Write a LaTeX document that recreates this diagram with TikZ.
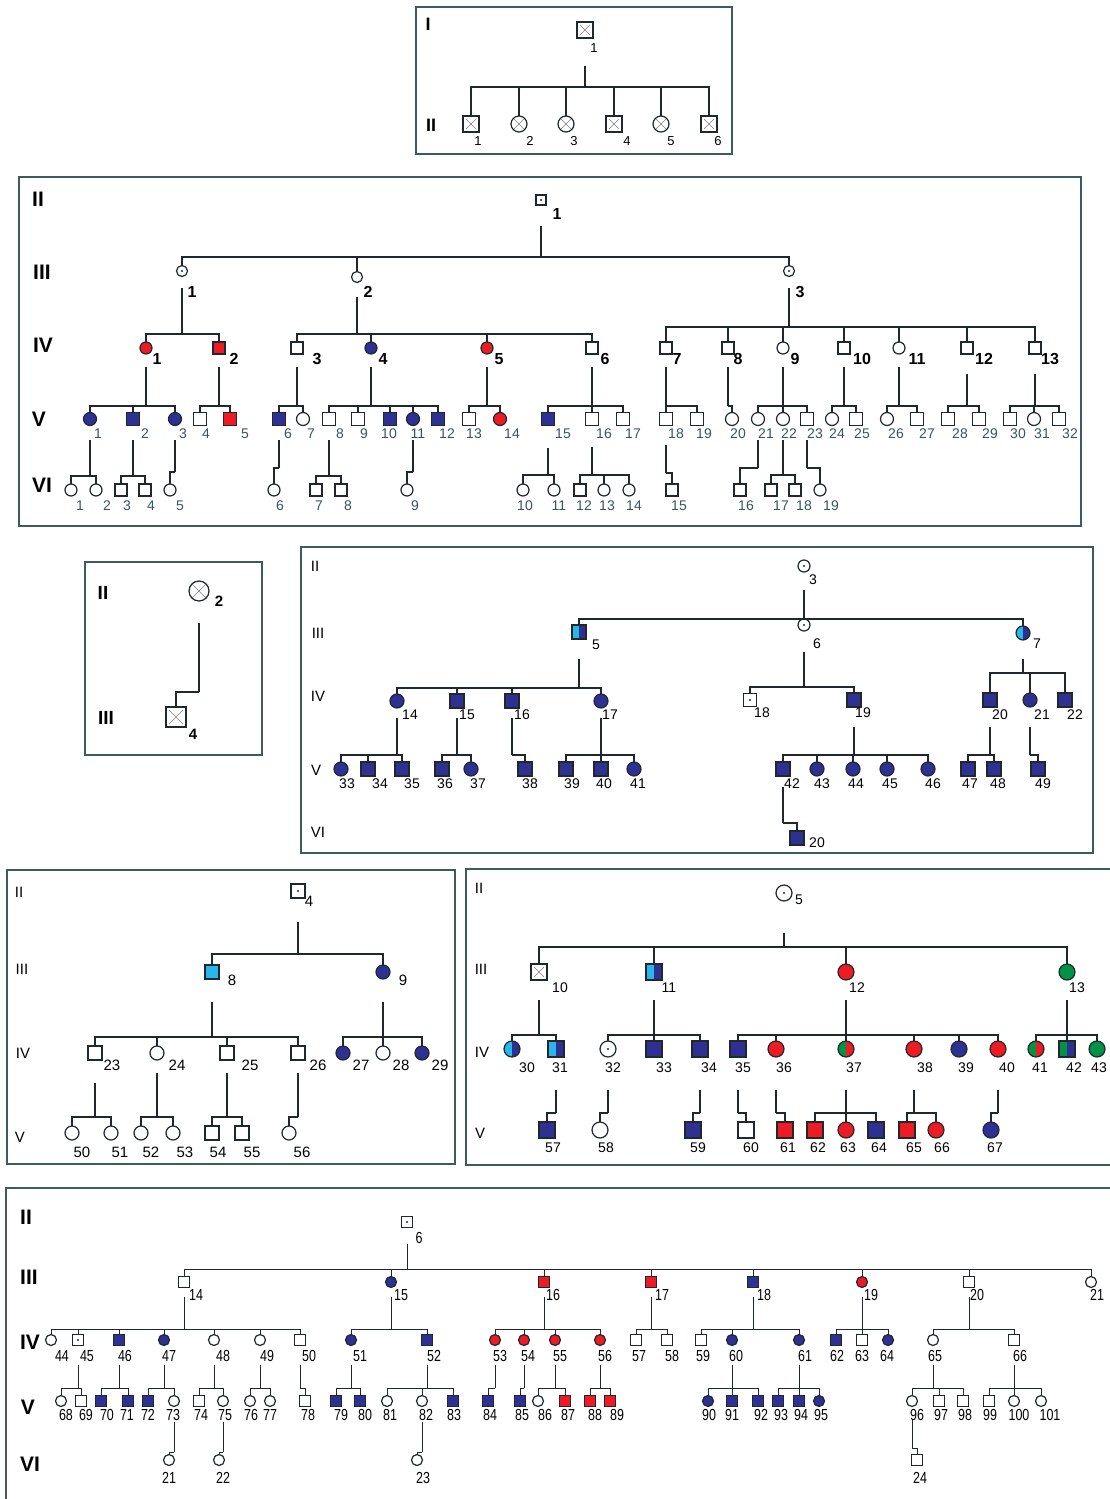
\documentclass[tikz,border=0pt]{standalone}
\usepackage{fontspec}
\setmainfont{Liberation Sans}
\newfontfamily\nfont[FakeStretch=0.78]{Liberation Sans}
\definecolor{bl}{RGB}{46,49,146}
\definecolor{rd}{RGB}{237,28,36}
\definecolor{cy}{RGB}{41,182,232}
\definecolor{gr}{RGB}{0,146,69}
\definecolor{lc}{RGB}{30,40,45}
\definecolor{fr}{RGB}{60,90,98}
\definecolor{tl}{RGB}{55,85,95}
\tikzset{
 ln/.style={draw=lc, line width=1.2pt},
 frm/.style={draw=fr, line width=1.8pt},
 msq/.style={draw=lc, line width=1.2pt, rectangle, inner sep=0pt, outer sep=0pt, minimum size=#1, fill=white},
 mci/.style={draw=lc, line width=1.2pt, circle, inner sep=0pt, outer sep=0pt, minimum size=#1, fill=white},
 lh/.style={path picture={\fill[#1] (path picture bounding box.south west) rectangle (path picture bounding box.north);}},
 dt/.style={path picture={\fill[lc] (path picture bounding box.center) circle[radius=1.2pt];}},
 xx/.style={path picture={\draw[gray, line width=0.6pt] ([shift={(3pt,3pt)}]path picture bounding box.south west) -- ([shift={(-3pt,-3pt)}]path picture bounding box.north east) ([shift={(3pt,-3pt)}]path picture bounding box.north west) -- ([shift={(-3pt,3pt)}]path picture bounding box.south east);}},
 lb/.style={inner sep=0pt, text=black},
 gen/.style={inner sep=0pt, text=black},
}
\newcommand\pers[5]{\node[#2] (#1) at (#3) {}; \node[lb] (#1t) at (#4) {#5};}
\newcommand\sibs[4]{\draw[ln] (#1 |- 0,#2) -- (#1 |- 0,#3);
 \foreach \ch in {#4}{\draw[ln] (#1 |- 0,#3) -| (\ch.north);}}
\begin{document}
\begin{tikzpicture}[x=1pt,y=-1pt]
\fill[white] (0,0) rectangle (1109,1499);
\useasboundingbox (0,0) rectangle (1109,1499);

%% ---------------- Box A
\begin{scope}[lb/.style={inner sep=0pt, font=\fontsize{13}{13}\selectfont}, gen/.style={inner sep=0pt, font=\fontsize{18}{18}\selectfont\bfseries}]
\draw[frm] (416,7) rectangle (732,154);
\node[gen] (gA1) at (428,24) {I};
\node[gen] (gA2) at (431,125) {II};
\pers{a1}{msq=16,xx}{585,30}{594,48}{1}
\pers{a21}{msq=16,xx}{471,124}{478,141}{1}
\pers{a22}{mci=16,xx}{519,124}{530,141}{2}
\pers{a23}{mci=16,xx}{566,124}{574,141}{3}
\pers{a24}{msq=16,xx}{614,124}{627,141}{4}
\pers{a25}{mci=16,xx}{661,124}{671,141}{5}
\pers{a26}{msq=16,xx}{709,124}{718,141}{6}
\sibs{a1}{66}{87}{a21,a22,a23,a24,a25,a26}
\end{scope}

%% ---------------- Box B
\begin{scope}[lb/.style={inner sep=0pt, font=\fontsize{16}{16}\selectfont\bfseries}, gen/.style={inner sep=0pt, font=\fontsize{21}{21}\selectfont\bfseries}]
\draw[frm] (19,177) rectangle (1081,526);
\node[gen] (gB2) at (38,199) {II};
\node[gen] (gB3) at (42,272) {III};
\node[gen] (gB4) at (43,345) {IV};
\node[gen] (gB5) at (39,419) {V};
\node[gen] (gB6) at (42,485) {VI};
\pers{b1}{msq=10,dt}{541,200}{557,214}{1}
\pers{b31}{mci=11,dt}{182,271}{192,292}{1}
\pers{b32}{mci=11}{357,277}{368,292}{2}
\pers{b33}{mci=11,dt}{789,271}{800,292}{3}
\sibs{b1}{226}{257}{b31,b32,b33}
\pers{b41}{mci=12,fill=rd}{146,348}{157,359}{1}
\pers{b42}{msq=12,fill=rd}{219,348}{234,359}{2}
\pers{b43}{msq=12}{297,348}{317,359}{3}
\pers{b44}{mci=12,fill=bl}{371,348}{383,359}{4}
\pers{b45}{mci=12,fill=rd}{487,348}{499,359}{5}
\pers{b46}{msq=12}{592,348}{605,359}{6}
\pers{b47}{msq=12}{666,348}{677,359}{7}
\pers{b48}{msq=12}{728,348}{738,359}{8}
\pers{b49}{mci=12}{783,348}{795,359}{9}
\pers{b410}{msq=12}{844,348}{862,359}{10}
\pers{b411}{mci=12}{899,348}{917,359}{11}
\pers{b412}{msq=12}{967,348}{984,359}{12}
\pers{b413}{msq=12}{1035,348}{1050,359}{13}
\sibs{b31}{288}{334}{b41,b42}
\sibs{b32}{297}{334}{b43,b44,b45,b46}
\sibs{b33}{288}{327}{b47,b48,b49,b410,b411,b412,b413}
\end{scope}
\begin{scope}[lb/.style={inner sep=0pt, text=tl, font=\fontsize{14}{14}\selectfont}]
\pers{b51}{mci=13,fill=bl}{90,419}{98,434}{1}
\pers{b52}{msq=13,fill=bl}{133,419}{145,434}{2}
\pers{b53}{mci=13,fill=bl}{175,419}{183,434}{3}
\pers{b54}{msq=13}{200,419}{206,434}{4}
\pers{b55}{msq=13,fill=rd}{230,419}{245,434}{5}
\pers{b56}{msq=13,fill=bl}{279,419}{288,434}{6}
\pers{b57}{mci=13}{303,419}{311,434}{7}
\pers{b58}{msq=13}{329,419}{340,434}{8}
\pers{b59}{msq=13}{358,419}{364,434}{9}
\pers{b510}{msq=13,fill=bl}{390,419}{389,434}{10}
\pers{b511}{mci=13,fill=bl}{413,419}{418,434}{11}
\pers{b512}{msq=13,fill=bl}{438,419}{447,434}{12}
\pers{b513}{msq=13}{469,419}{474,434}{13}
\pers{b514}{mci=13,fill=rd}{500,419}{512,434}{14}
\pers{b515}{msq=13,fill=bl}{548,419}{563,434}{15}
\pers{b516}{msq=13}{592,419}{604,434}{16}
\pers{b517}{msq=13}{623,419}{633,434}{17}
\pers{b518}{msq=13}{666,419}{676,434}{18}
\pers{b519}{msq=13}{697,419}{704,434}{19}
\pers{b520}{mci=13}{732,419}{738,434}{20}
\pers{b521}{mci=13}{758,419}{766,434}{21}
\pers{b522}{mci=13}{783,419}{789,434}{22}
\pers{b523}{msq=13}{807,419}{815,434}{23}
\pers{b524}{mci=13}{832,419}{837,434}{24}
\pers{b525}{msq=13}{856,419}{862,434}{25}
\pers{b526}{mci=13}{887,419}{896,434}{26}
\pers{b527}{msq=13}{917,419}{927,434}{27}
\pers{b528}{msq=13}{948,419}{960,434}{28}
\pers{b529}{msq=13}{979,419}{990,434}{29}
\pers{b530}{msq=13}{1010,419}{1018,434}{30}
\pers{b531}{mci=13}{1034,419}{1042,434}{31}
\pers{b532}{msq=13}{1059,419}{1070,434}{32}
\sibs{b41}{367}{406}{b51,b52,b53}
\sibs{b42}{367}{406}{b54,b55}
\sibs{b43}{367}{406}{b56,b57}
\sibs{b44}{367}{406}{b58,b59,b510,b511,b512}
\sibs{b45}{367}{406}{b513,b514}
\sibs{b46}{367}{406}{b515,b516,b517}
\sibs{b47}{367}{406}{b518,b519}
\sibs{b48}{367}{406}{b520}
\sibs{b49}{367}{406}{b521,b522,b523}
\sibs{b410}{367}{406}{b524,b525}
\sibs{b411}{367}{406}{b526,b527}
\sibs{b412}{374}{406}{b528,b529}
\sibs{b413}{374}{406}{b530,b531,b532}
\pers{b61}{mci=12}{71,490}{80,506}{1}
\pers{b62}{mci=12}{96,490}{107,506}{2}
\pers{b63}{msq=12}{121,490}{127,506}{3}
\pers{b64}{msq=12}{145,490}{151,506}{4}
\pers{b65}{mci=12}{170,490}{180,506}{5}
\pers{b66}{mci=12}{274,490}{280,506}{6}
\pers{b67}{msq=12}{316,490}{319,506}{7}
\pers{b68}{msq=12}{341,490}{348,506}{8}
\pers{b69}{mci=12}{407,490}{415,506}{9}
\pers{b610}{mci=12}{523,490}{525,506}{10}
\pers{b611}{mci=12}{554,490}{559,506}{11}
\pers{b612}{msq=12}{580,490}{584,506}{12}
\pers{b613}{mci=12}{604,490}{607,506}{13}
\pers{b614}{mci=12}{629,490}{634,506}{14}
\pers{b615}{msq=12}{672,490}{679,506}{15}
\pers{b616}{msq=12}{740,490}{746,506}{16}
\pers{b617}{msq=12}{771,490}{781,506}{17}
\pers{b618}{msq=12}{795,490}{804,506}{18}
\pers{b619}{mci=12}{820,490}{831,506}{19}
\sibs{b51}{440}{476}{b61,b62}
\sibs{b52}{440}{476}{b63,b64}
\sibs{b53}{440}{472}{b65}
\sibs{b56}{440}{468}{b66}
\sibs{b58}{440}{476}{b67,b68}
\sibs{b511}{440}{472}{b69}
\sibs{b515}{448}{475}{b610,b611}
\sibs{b516}{447}{475}{b612,b613,b614}
\sibs{b518}{445}{473}{b615}
\sibs{b521}{440}{468}{b616}
\sibs{b522}{440}{475}{b617,b618}
\sibs{b523}{440}{468}{b619}
\end{scope}

%% ---------------- Box C
\begin{scope}[lb/.style={inner sep=0pt, font=\fontsize{15}{15}\selectfont\bfseries}, gen/.style={inner sep=0pt, font=\fontsize{19}{19}\selectfont\bfseries}]
\draw[frm] (85,562) rectangle (262,755);
\node[gen] (gC2) at (103,593) {II};
\node[gen] (gC3) at (106,718) {III};
\pers{c2}{mci=20,xx}{199,591}{219,601}{2}
\pers{c4}{msq=20,xx}{176,717}{193,734}{4}
\sibs{c2}{623}{692}{c4}
\end{scope}

%% ---------------- Box D
\begin{scope}[lb/.style={inner sep=0pt, font=\fontsize{14}{14}\selectfont}, gen/.style={inner sep=0pt, font=\fontsize{15}{15}\selectfont}]
\draw[frm] (301,547) rectangle (1093,853);
\node[gen] (gD2) at (315,566) {II};
\node[gen] (gD3) at (318,633) {III};
\node[gen] (gD4) at (318,696) {IV};
\node[gen] (gD5) at (316,770) {V};
\node[gen] (gD6) at (318,832) {VI};
\pers{d3}{mci=12,dt}{804,566}{813,580}{3}
\pers{d5}{msq=14,fill=bl,lh=cy}{579,632}{596,645}{5}
\pers{d6}{mci=12,dt}{804,625}{817,644}{6}
\pers{d7}{mci=14,fill=bl,lh=cy}{1023,633}{1037,644}{7}
\sibs{d3}{590}{619}{d5,d6,d7}
\pers{d14}{mci=14,fill=bl}{397,701}{410,715}{14}
\pers{d15}{msq=14,fill=bl}{457,701}{467,715}{15}
\pers{d16}{msq=14,fill=bl}{512,701}{522,715}{16}
\pers{d17}{mci=14,fill=bl}{601,701}{610,715}{17}
\pers{d18}{msq=13,dt}{750,700}{762,713}{18}
\pers{d19}{msq=14,fill=bl}{854,700}{863,713}{19}
\pers{d20}{msq=14,fill=bl}{990,700}{1000,715}{20}
\pers{d21}{mci=14,fill=bl}{1030,700}{1042,715}{21}
\pers{d22}{msq=14,fill=bl}{1065,700}{1075,715}{22}
\sibs{d5}{659}{688}{d14,d15,d16,d17}
\sibs{d6}{652}{687}{d18,d19}
\sibs{d7}{659}{673}{d20,d21,d22}
\pers{d33}{mci=14,fill=bl}{341,769}{347,784}{33}
\pers{d34}{msq=14,fill=bl}{368,769}{380,784}{34}
\pers{d35}{msq=14,fill=bl}{402,769}{412,784}{35}
\pers{d36}{msq=14,fill=bl}{442,769}{445,784}{36}
\pers{d37}{mci=14,fill=bl}{471,769}{478,784}{37}
\pers{d38}{msq=14,fill=bl}{525,769}{530,784}{38}
\pers{d39}{msq=14,fill=bl}{566,769}{572,784}{39}
\pers{d40}{msq=14,fill=bl}{601,769}{604,784}{40}
\pers{d41}{mci=14,fill=bl}{634,769}{638,784}{41}
\pers{d42}{msq=14,fill=bl}{783,769}{792,784}{42}
\pers{d43}{mci=14,fill=bl}{817,769}{822,784}{43}
\pers{d44}{mci=14,fill=bl}{853,769}{856,784}{44}
\pers{d45}{mci=14,fill=bl}{887,769}{890,784}{45}
\pers{d46}{mci=14,fill=bl}{928,769}{933,784}{46}
\pers{d47}{msq=14,fill=bl}{968,769}{970,784}{47}
\pers{d48}{msq=14,fill=bl}{994,769}{998,784}{48}
\pers{d49}{msq=14,fill=bl}{1038,769}{1043,784}{49}
\sibs{d14}{718}{755}{d33,d34,d35}
\sibs{d15}{718}{755}{d36,d37}
\sibs{d16}{718}{755}{d38}
\sibs{d17}{718}{755}{d39,d40,d41}
\sibs{d19}{727}{755}{d42,d43,d44,d45,d46}
\sibs{d20}{727}{755}{d47,d48}
\sibs{d21}{727}{755}{d49}
\pers{dv20}{msq=14,fill=bl}{797,838}{817,843}{20}
\sibs{d42}{787}{823}{dv20}
\end{scope}

%% ---------------- Box E
\begin{scope}[lb/.style={inner sep=0pt, font=\fontsize{15}{15}\selectfont}, gen/.style={inner sep=0pt, font=\fontsize{15}{15}\selectfont}]
\draw[frm] (7,870) rectangle (455,1164);
\node[gen] (gE2) at (19,892) {II};
\node[gen] (gE3) at (22,969) {III};
\node[gen] (gE4) at (23,1053) {IV};
\node[gen] (gE5) at (20,1137) {V};
\pers{e4}{msq=14,dt}{298,891}{309,901}{4}
\pers{e8}{msq=14,fill=cy}{212,972}{232,980}{8}
\pers{e9}{mci=14,fill=bl}{383,972}{403,980}{9}
\sibs{e4}{922}{954}{e8,e9}
\pers{e23}{msq=14}{95,1053}{112,1065}{23}
\pers{e24}{mci=14}{157,1053}{177,1065}{24}
\pers{e25}{msq=14}{227,1053}{250,1065}{25}
\pers{e26}{msq=14}{298,1053}{318,1065}{26}
\pers{e27}{mci=14,fill=bl}{343,1053}{361,1065}{27}
\pers{e28}{mci=14}{383,1053}{401,1065}{28}
\pers{e29}{mci=14,fill=bl}{422,1053}{440,1065}{29}
\sibs{e8}{1002}{1037}{e23,e24,e25,e26}
\sibs{e9}{1002}{1037}{e27,e28,e29}
\pers{e50}{mci=14}{72,1133}{82,1152}{50}
\pers{e51}{mci=14}{111,1133}{120,1152}{51}
\pers{e52}{mci=14}{141,1133}{151,1152}{52}
\pers{e53}{mci=14}{173,1133}{185,1152}{53}
\pers{e54}{msq=14}{212,1133}{218,1152}{54}
\pers{e55}{msq=14}{242,1133}{252,1152}{55}
\pers{e56}{mci=14}{289,1133}{302,1152}{56}
\sibs{e23}{1083}{1117}{e50,e51}
\sibs{e24}{1073}{1117}{e52,e53}
\sibs{e25}{1073}{1117}{e54,e55}
\sibs{e26}{1073}{1117}{e56}
\end{scope}

%% ---------------- Box F
\begin{scope}[lb/.style={inner sep=0pt, font=\fontsize{14}{14}\selectfont}, gen/.style={inner sep=0pt, font=\fontsize{15}{15}\selectfont}]
\draw[frm] (466,869) rectangle (1118,1165);
\node[gen] (gF2) at (479,888) {II};
\node[gen] (gF3) at (481,969) {III};
\node[gen] (gF4) at (482,1052) {IV};
\node[gen] (gF5) at (480,1133) {V};
\pers{f5}{mci=16,dt}{784,893}{799,900}{5}
\pers{f10}{msq=16,xx}{539,972}{560,988}{10}
\pers{f11}{msq=16,fill=bl,lh=cy}{654,972}{669,988}{11}
\pers{f12}{mci=16,fill=rd}{846,972}{857,988}{12}
\pers{f13}{mci=16,fill=gr}{1067,972}{1077,988}{13}
\sibs{f5}{933}{947}{f10,f11,f12,f13}
\pers{f30}{mci=16,fill=bl,lh=cy}{512,1049}{527,1068}{30}
\pers{f31}{msq=16,fill=bl,lh=cy}{556,1049}{560,1068}{31}
\pers{f32}{mci=16,dt}{608,1049}{613,1068}{32}
\pers{f33}{msq=16,fill=bl}{654,1049}{664,1068}{33}
\pers{f34}{msq=16,fill=bl}{700,1049}{709,1068}{34}
\pers{f35}{msq=16,fill=bl}{738,1049}{743,1068}{35}
\pers{f36}{mci=16,fill=rd}{776,1049}{784,1068}{36}
\pers{f37}{mci=16,fill=rd,lh=gr}{846,1049}{854,1068}{37}
\pers{f38}{mci=16,fill=rd}{914,1049}{925,1068}{38}
\pers{f39}{mci=16,fill=bl}{959,1049}{966,1068}{39}
\pers{f40}{mci=16,fill=rd}{998,1049}{1007,1068}{40}
\pers{f41}{mci=16,fill=rd,lh=gr}{1036,1049}{1040,1068}{41}
\pers{f42}{msq=16,fill=bl,lh=gr}{1067,1049}{1074,1068}{42}
\pers{f43}{mci=16,fill=gr}{1097,1049}{1099,1068}{43}
\sibs{f10}{1000}{1035}{f30,f31}
\sibs{f11}{1000}{1035}{f32,f33,f34}
\sibs{f12}{1000}{1035}{f35,f36,f37,f38,f39,f40}
\sibs{f13}{1000}{1035}{f41,f42,f43}
\pers{f57}{msq=16,fill=bl}{547,1130}{553,1148}{57}
\pers{f58}{mci=16}{600,1130}{606,1148}{58}
\pers{f59}{msq=16,fill=bl}{693,1130}{698,1148}{59}
\pers{f60}{msq=16}{746,1130}{751,1148}{60}
\pers{f61}{msq=16,fill=rd}{785,1130}{788,1148}{61}
\pers{f62}{msq=16,fill=rd}{815,1130}{818,1148}{62}
\pers{f63}{mci=16,fill=rd}{846,1130}{848,1148}{63}
\pers{f64}{msq=16,fill=bl}{876,1130}{879,1148}{64}
\pers{f65}{msq=16,fill=rd}{907,1130}{914,1148}{65}
\pers{f66}{mci=16,fill=rd}{936,1130}{942,1148}{66}
\pers{f67}{mci=16,fill=bl}{991,1130}{995,1148}{67}
\sibs{f31}{1090}{1113}{f57}
\sibs{f32}{1090}{1113}{f58}
\sibs{f34}{1090}{1113}{f59}
\sibs{f35}{1090}{1113}{f60}
\sibs{f36}{1090}{1113}{f61}
\sibs{f37}{1090}{1113}{f62,f63,f64}
\sibs{f38}{1090}{1113}{f65,f66}
\sibs{f40}{1090}{1113}{f67}
\end{scope}

%% ---------------- Box G
\begin{scope}[lb/.style={inner sep=0pt, font=\nfont\fontsize{16}{16}\selectfont}, gen/.style={inner sep=0pt, font=\fontsize{21}{21}\selectfont\bfseries}, ln/.style={draw=lc, line width=0.9pt}]
\draw[frm] (6,1188) rectangle (1118,1505);
\node[gen] (gG2) at (26,1217) {II};
\node[gen] (gG3) at (29,1277) {III};
\node[gen] (gG4) at (30,1342) {IV};
\node[gen] (gG5) at (28,1407) {V};
\node[gen] (gG6) at (30,1464) {VI};
\pers{g6}{msq=11,dt}{407,1222}{419,1238}{6}
\pers{g14}{msq=11}{184,1282}{196,1295}{14}
\pers{g15}{mci=11,fill=bl}{391,1282}{401,1295}{15}
\pers{g16}{msq=11,fill=rd}{544,1282}{553,1295}{16}
\pers{g17}{msq=11,fill=rd}{651,1282}{662,1295}{17}
\pers{g18}{msq=11,fill=bl}{753,1282}{764,1295}{18}
\pers{g19}{mci=11,fill=rd}{862,1282}{871,1295}{19}
\pers{g20}{msq=11}{969,1282}{977,1295}{20}
\pers{g21}{mci=11}{1091,1282}{1097,1295}{21}
\sibs{g6}{1244}{1269}{g14,g15,g16,g17,g18,g19,g20,g21}
\pers{g44}{mci=11}{51,1340}{62,1356}{44}
\pers{g45}{msq=11,dt}{78,1340}{87,1356}{45}
\pers{g46}{msq=11,fill=bl}{119,1340}{125,1356}{46}
\pers{g47}{mci=11,fill=bl}{164,1340}{169,1356}{47}
\pers{g48}{mci=11}{214,1340}{223,1356}{48}
\pers{g49}{mci=11}{260,1340}{267,1356}{49}
\pers{g50}{msq=11}{300,1340}{309,1356}{50}
\pers{g51}{mci=11,fill=bl}{351,1340}{360,1356}{51}
\pers{g52}{msq=11,fill=bl}{427,1340}{434,1356}{52}
\pers{g53}{mci=11,fill=rd}{495,1340}{500,1356}{53}
\pers{g54}{mci=11,fill=rd}{524,1340}{528,1356}{54}
\pers{g55}{mci=11,fill=rd}{555,1340}{560,1356}{55}
\pers{g56}{mci=11,fill=rd}{600,1340}{605,1356}{56}
\pers{g57}{msq=11}{636,1340}{639,1356}{57}
\pers{g58}{msq=11}{667,1340}{672,1356}{58}
\pers{g59}{msq=11}{701,1340}{703,1356}{59}
\pers{g60}{mci=11,fill=bl}{732,1340}{736,1356}{60}
\pers{g61}{mci=11,fill=bl}{799,1340}{805,1356}{61}
\pers{g62}{msq=11,fill=bl}{836,1340}{837,1356}{62}
\pers{g63}{msq=11}{862,1340}{862,1356}{63}
\pers{g64}{mci=11,fill=bl}{888,1340}{887,1356}{64}
\pers{g65}{mci=11}{933,1340}{935,1356}{65}
\pers{g66}{msq=11}{1014,1340}{1020,1356}{66}
\sibs{g14}{1297}{1329}{g44,g45,g46,g47,g48,g49,g50}
\sibs{g15}{1297}{1329}{g51,g52}
\sibs{g16}{1297}{1329}{g53,g54,g55,g56}
\sibs{g17}{1297}{1329}{g57,g58}
\sibs{g18}{1297}{1329}{g59,g60,g61}
\sibs{g19}{1297}{1329}{g62,g63,g64}
\sibs{g20}{1297}{1329}{g65,g66}
\pers{g68}{mci=11}{61,1401}{66,1415}{68}
\pers{g69}{msq=11}{81,1401}{86,1415}{69}
\pers{g70}{msq=11,fill=bl}{101,1401}{107,1415}{70}
\pers{g71}{msq=11,fill=bl}{128,1401}{127,1415}{71}
\pers{g72}{msq=11,fill=bl}{148,1401}{148,1415}{72}
\pers{g73}{mci=11}{174,1401}{173,1415}{73}
\pers{g74}{msq=11}{199,1401}{201,1415}{74}
\pers{g75}{mci=11}{223,1401}{225,1415}{75}
\pers{g76}{mci=11}{250,1401}{251,1415}{76}
\pers{g77}{mci=11}{270,1401}{270,1415}{77}
\pers{g78}{msq=11}{305,1401}{308,1415}{78}
\pers{g79}{msq=11,fill=bl}{336,1401}{341,1415}{79}
\pers{g80}{msq=11,fill=bl}{360,1401}{365,1415}{80}
\pers{g81}{mci=11}{387,1401}{390,1415}{81}
\pers{g82}{mci=11}{422,1401}{426,1415}{82}
\pers{g83}{msq=11,fill=bl}{453,1401}{454,1415}{83}
\pers{g84}{msq=11,fill=bl}{488,1401}{490,1415}{84}
\pers{g85}{msq=11,fill=bl}{520,1401}{522,1415}{85}
\pers{g86}{mci=11}{538,1401}{545,1415}{86}
\pers{g87}{msq=11,fill=rd}{565,1401}{568,1415}{87}
\pers{g88}{msq=11,fill=rd}{590,1401}{595,1415}{88}
\pers{g89}{msq=11,fill=rd}{610,1401}{617,1415}{89}
\pers{g90}{mci=11,fill=bl}{708,1401}{709,1415}{90}
\pers{g91}{msq=11,fill=bl}{732,1401}{732,1415}{91}
\pers{g92}{msq=11,fill=bl}{758,1401}{761,1415}{92}
\pers{g93}{msq=11,fill=bl}{778,1401}{781,1415}{93}
\pers{g94}{msq=11,fill=bl}{799,1401}{801,1415}{94}
\pers{g95}{mci=11,fill=bl}{819,1401}{821,1415}{95}
\pers{g96}{mci=11}{912,1401}{917,1415}{96}
\pers{g97}{msq=11}{939,1401}{941,1415}{97}
\pers{g98}{msq=11}{963,1401}{965,1415}{98}
\pers{g99}{msq=11}{989,1401}{990,1415}{99}
\pers{g100}{mci=11}{1014,1401}{1019,1415}{100}
\pers{g101}{mci=11}{1041,1401}{1050,1415}{101}
\sibs{g45}{1365}{1388}{g68,g69}
\sibs{g46}{1365}{1388}{g70,g71}
\sibs{g47}{1365}{1388}{g72,g73}
\sibs{g48}{1365}{1388}{g74,g75}
\sibs{g49}{1365}{1388}{g76,g77}
\sibs{g50}{1365}{1388}{g78}
\sibs{g51}{1365}{1388}{g79,g80}
\sibs{g52}{1365}{1388}{g81,g82,g83}
\sibs{g53}{1365}{1388}{g84}
\sibs{g54}{1365}{1388}{g85}
\sibs{g55}{1365}{1388}{g86,g87}
\sibs{g56}{1365}{1388}{g88,g89}
\sibs{g60}{1365}{1388}{g90,g91,g92}
\sibs{g61}{1365}{1388}{g93,g94,g95}
\sibs{g65}{1365}{1388}{g96,g97,g98}
\sibs{g66}{1365}{1388}{g99,g100,g101}
\pers{g621}{mci=11}{169,1460}{169,1478}{21}
\pers{g622}{mci=11}{219,1460}{223,1478}{22}
\pers{g623}{mci=11}{417,1460}{423,1478}{23}
\pers{g624}{msq=11}{917,1460}{920,1478}{24}
\sibs{g73}{1422}{1452}{g621}
\sibs{g75}{1422}{1452}{g622}
\sibs{g82}{1422}{1452}{g623}
\sibs{g96}{1420}{1448}{g624}
\end{scope}
\end{tikzpicture}
\end{document}
